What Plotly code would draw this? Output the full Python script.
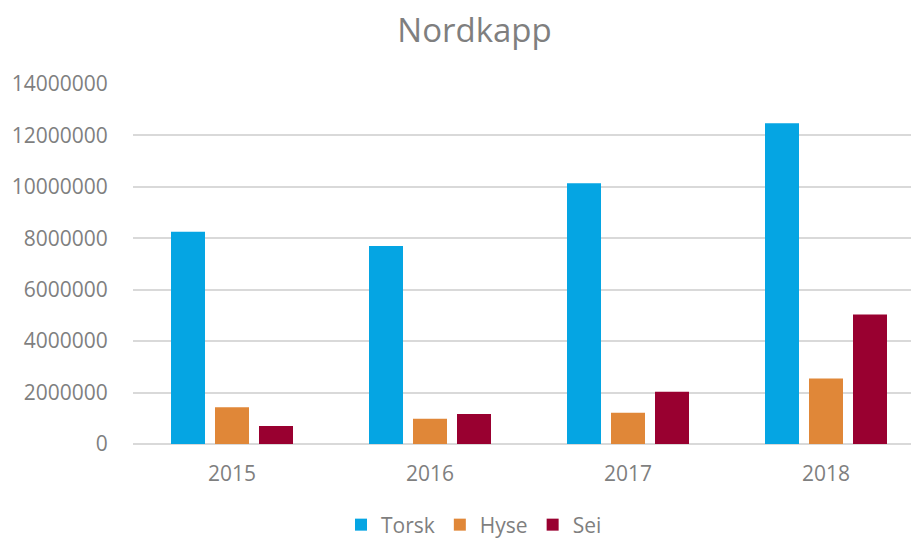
import plotly.graph_objects as go

years = ["2015", "2016", "2017", "2018"]
torsk = [8250000, 7700000, 10140000, 12470000]
hyse = [1430000, 980000, 1220000, 2550000]
sei = [700000, 1170000, 2030000, 5040000]

series_names = ["Torsk", "Hyse", "Sei"]
colors = ["#05A5E3", "#E08738", "#990030"]

# page body has an 8px margin, so the figure is offset by (8, 8)
OFF = 8
W, H = 919 - OFF, 538 - OFF
L, R_px, T, B = 133 - OFF, 919 - OFF, 84 - OFF, 444 - OFF

fig = go.Figure()
for name, vals, col in zip(series_names, [torsk, hyse, sei], colors):
    fig.add_trace(go.Bar(x=[0, 1, 2, 3], y=vals, name=name, marker=dict(color=col, line=dict(width=0))))

font_family = "Open Sans"
gray = "#7F7F7F"
cat_w = 198
xmax = -0.5 + (R_px - L) / cat_w

fig.update_layout(
    width=W, height=H,
    margin=dict(l=L, r=W - R_px, t=T, b=H - B, autoexpand=False),
    paper_bgcolor="white", plot_bgcolor="white",
    barmode="group", bargap=1 - 132 / 198, bargroupgap=10 / 44,
    font=dict(family=font_family, color=gray, size=21),
    title=dict(text="Nordkapp", x=(474.5 - OFF) / W, xref="container", xanchor="center",
               y=1 - (30 - OFF) / H, yref="container", yanchor="middle",
               font=dict(family=font_family, size=33, color=gray)),
    showlegend=True,
    legend=dict(orientation="h", xref="paper", x=(474 - 133) / (R_px - L), xanchor="center",
                yref="paper", y=(444 - 525) / (B - T), yanchor="middle",
                font=dict(family=font_family, size=21, color=gray),
                bgcolor="rgba(0,0,0,0)", itemwidth=30, tracegroupgap=0),
    xaxis=dict(range=[-0.5, xmax], tickmode="array", tickvals=[0, 1, 2, 3], ticktext=years,
               showgrid=False, zeroline=False, showline=False, automargin=False,
               ticks="outside", ticklen=11, tickcolor="rgba(0,0,0,0)",
               tickfont=dict(family=font_family, size=21, color=gray)),
    yaxis=dict(range=[0, 14000000], tickmode="linear", tick0=0, dtick=2000000,
               tickformat="d", showgrid=True, gridcolor="#D9D9D9", gridwidth=2,
               zeroline=True, zerolinecolor="#D9D9D9", zerolinewidth=2, showline=False,
               automargin=False,
               ticks="outside", ticklen=20, tickcolor="rgba(0,0,0,0)",
               tickfont=dict(family=font_family, size=21, color=gray)),
)

fig.write_html("out.html", post_script="document.documentElement.style.overflow='hidden';document.body.style.overflow='hidden';")
